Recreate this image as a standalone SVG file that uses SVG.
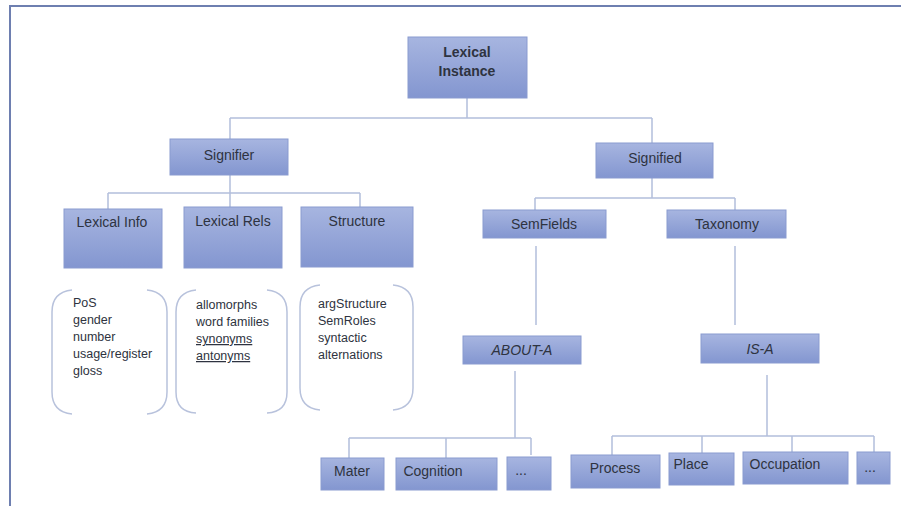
<svg xmlns="http://www.w3.org/2000/svg" width="901" height="506" viewBox="0 0 901 506">
<defs>
<linearGradient id="g" x1="0" y1="0" x2="0" y2="1">
<stop offset="0" stop-color="#a7b5e0"/>
<stop offset="1" stop-color="#8396d0"/>
</linearGradient>
<style>
.box{fill:url(#g);stroke:#8a9bd0;stroke-width:1}
.lbl{font-family:"Liberation Sans",Arial,sans-serif;font-size:14px;fill:#2e3340;text-anchor:middle}
.it{font-style:italic}
.b{font-weight:bold}
.txt{font-family:"Liberation Sans",Arial,sans-serif;font-size:12.5px;fill:#2e3340}
.con{fill:none;stroke:#b3bfdc;stroke-width:1.5}
.br{fill:none;stroke:#b8c2dc;stroke-width:1.5}
</style>
</defs>
<rect width="901" height="506" fill="#ffffff"/>
<path d="M10 506 V6 H901" fill="none" stroke="#6e7fb0" stroke-width="2"/>
<g id="connectors">
<path class="con" d="M467 98 V118 M230 118 H652 M230 118 V139 M652 118 V143"/>
<path class="con" d="M230 175 V193 M108 193 H360 M108 193 V209 M230 193 V207 M360 193 V207"/>
<path class="con" d="M652 178 V198 M535 198 H735 M535 198 V210 M735 198 V210"/>
<path class="con" d="M536 246 V325 M735 246 V325"/>
<path class="con" d="M515 371 V438 M349 438 H531 M349 438 V458 M446 438 V458 M531 438 V455"/>
<path class="con" d="M767 375 V436 M612 436 H874 M612 436 V455 M702 436 V453 M792 436 V452 M874 436 V452"/>
</g>
<g id="lexical-instance"><rect class="box" x="408" y="37" width="119" height="61"/><text class="lbl b" x="467" y="57">Lexical</text><text class="lbl b" x="467" y="76">Instance</text></g>
<g id="signifier"><rect class="box" x="170" y="139" width="118" height="36"/><text class="lbl" x="229" y="160">Signifier</text></g>
<g id="signified"><rect class="box" x="596" y="143" width="117" height="35"/><text class="lbl" x="655" y="163">Signified</text></g>
<g id="lexical-info"><rect class="box" x="64" y="209" width="98" height="59"/><text class="lbl" x="112" y="227">Lexical Info</text></g>
<g id="lexical-rels"><rect class="box" x="184" y="207" width="98" height="61"/><text class="lbl" x="233" y="226">Lexical Rels</text></g>
<g id="structure"><rect class="box" x="301" y="207" width="112" height="60"/><text class="lbl" x="357" y="226">Structure</text></g>
<g id="semfields"><rect class="box" x="483" y="210" width="123" height="28"/><text class="lbl" x="544" y="229">SemFields</text></g>
<g id="taxonomy"><rect class="box" x="667" y="210" width="119" height="28"/><text class="lbl" x="727" y="229">Taxonomy</text></g>
<g id="about-a"><rect class="box" x="463" y="336" width="118" height="28"/><text class="lbl it" x="522" y="355">ABOUT-A</text></g>
<g id="is-a"><rect class="box" x="701" y="334" width="118" height="29"/><text class="lbl it" x="760" y="354">IS-A</text></g>
<g id="mater"><rect class="box" x="321" y="458" width="63" height="32"/><text class="lbl" x="352" y="476">Mater</text></g>
<g id="cognition"><rect class="box" x="396" y="458" width="101" height="32"/><text class="lbl" x="433" y="476">Cognition</text></g>
<g id="etc1"><rect class="box" x="507" y="457" width="44" height="33"/><text class="lbl" x="521" y="475">...</text></g>
<g id="process"><rect class="box" x="571" y="455" width="89" height="33"/><text class="lbl" x="615" y="473">Process</text></g>
<g id="place"><rect class="box" x="669" y="453" width="65" height="32"/><text class="lbl" x="691" y="469">Place</text></g>
<g id="occupation"><rect class="box" x="743" y="452" width="105" height="32"/><text class="lbl" x="785" y="469">Occupation</text></g>
<g id="etc2"><rect class="box" x="857" y="452" width="33" height="32"/><text class="lbl" x="870" y="472">...</text></g>
<g id="bracket-info">
<path class="br" d="M72 290 Q52 292 52 312 V392 Q52 412 72 414 M147 290 Q167 292 167 312 V392 Q167 412 147 414"/>
<text class="txt" x="73" y="307">PoS</text><text class="txt" x="73" y="324">gender</text><text class="txt" x="73" y="341">number</text><text class="txt" x="73" y="358">usage/register</text><text class="txt" x="73" y="375">gloss</text>
</g>
<g id="bracket-rels">
<path class="br" d="M196 290 Q176 292 176 312 V392 Q176 412 196 413 M267 290 Q287 292 287 312 V392 Q287 412 267 413"/>
<text class="txt" x="196" y="309">allomorphs</text><text class="txt" x="196" y="326">word families</text><text class="txt" x="196" y="343" text-decoration="underline">synonyms</text><text class="txt" x="196" y="360" text-decoration="underline">antonyms</text>
</g>
<g id="bracket-structure">
<path class="br" d="M320 285 Q300 287 300 307 V388 Q300 408 320 410 M393 285 Q413 287 413 307 V388 Q413 408 393 410"/>
<text class="txt" x="318" y="308">argStructure</text><text class="txt" x="318" y="325">SemRoles</text><text class="txt" x="318" y="342">syntactic</text><text class="txt" x="318" y="359">alternations</text>
</g>
</svg>
